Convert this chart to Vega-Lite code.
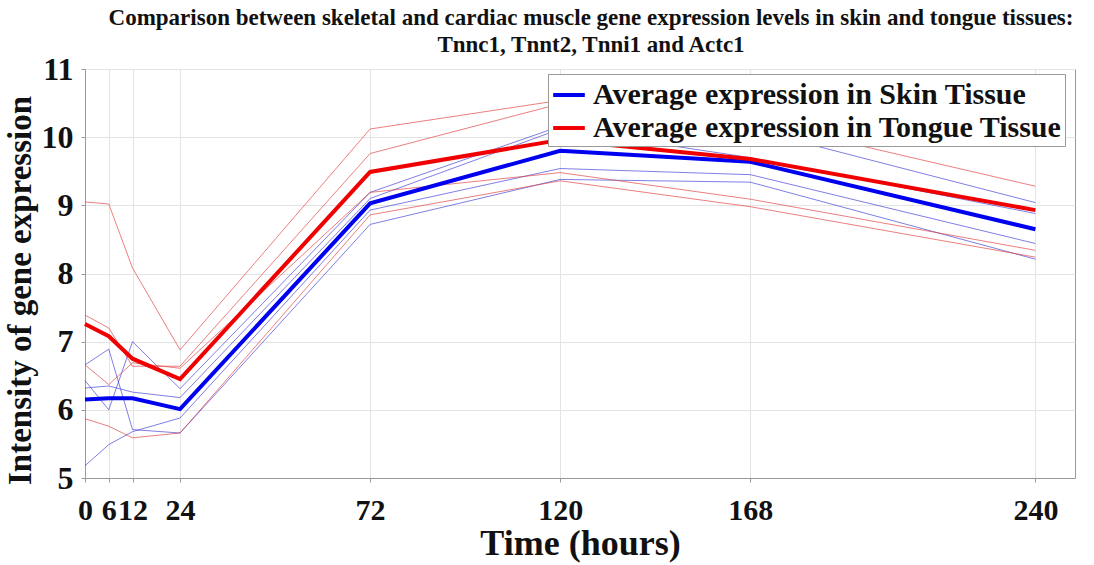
{
  "$schema": "https://vega.github.io/schema/vega-lite/v6.json",
  "width": 990,
  "height": 409,
  "autosize": "none",
  "padding": {"left": 85, "top": 69, "right": 19, "bottom": 87},
  "background": "white",
  "title": {
    "text": ["Comparison between skeletal and cardiac muscle gene expression levels in skin and tongue tissues:", "Tnnc1, Tnnt2, Tnni1 and Actc1"],
    "font": "Liberation Serif",
    "fontSize": 23,
    "fontWeight": "bold",
    "color": "#111",
    "anchor": "middle",
    "dx": 11,
    "offset": -4,
    "lineHeight": 27
  },
  "config": {
    "view": {"stroke": "#999", "strokeWidth": 1},
    "font": "Liberation Serif"
  },
  "datasets": {
    "thin": [
      {"tissue": "Skin", "line": "S1", "hour": 0, "value": 6.66},
      {"tissue": "Skin", "line": "S1", "hour": 6, "value": 6.89},
      {"tissue": "Skin", "line": "S1", "hour": 12, "value": 5.71},
      {"tissue": "Skin", "line": "S1", "hour": 24, "value": 5.66},
      {"tissue": "Skin", "line": "S1", "hour": 72, "value": 8.72},
      {"tissue": "Skin", "line": "S1", "hour": 120, "value": 9.38},
      {"tissue": "Skin", "line": "S1", "hour": 168, "value": 9.34},
      {"tissue": "Skin", "line": "S1", "hour": 240, "value": 8.21},
      {"tissue": "Skin", "line": "S2", "hour": 0, "value": 6.43},
      {"tissue": "Skin", "line": "S2", "hour": 6, "value": 6.0},
      {"tissue": "Skin", "line": "S2", "hour": 12, "value": 7.0},
      {"tissue": "Skin", "line": "S2", "hour": 24, "value": 6.31},
      {"tissue": "Skin", "line": "S2", "hour": 72, "value": 9.19},
      {"tissue": "Skin", "line": "S2", "hour": 120, "value": 10.16},
      {"tissue": "Skin", "line": "S2", "hour": 168, "value": 10.12},
      {"tissue": "Skin", "line": "S2", "hour": 240, "value": 9.04},
      {"tissue": "Skin", "line": "S3", "hour": 0, "value": 6.32},
      {"tissue": "Skin", "line": "S3", "hour": 6, "value": 6.35},
      {"tissue": "Skin", "line": "S3", "hour": 12, "value": 6.26},
      {"tissue": "Skin", "line": "S3", "hour": 24, "value": 6.18},
      {"tissue": "Skin", "line": "S3", "hour": 72, "value": 9.1},
      {"tissue": "Skin", "line": "S3", "hour": 120, "value": 10.12},
      {"tissue": "Skin", "line": "S3", "hour": 168, "value": 9.7},
      {"tissue": "Skin", "line": "S3", "hour": 240, "value": 8.88},
      {"tissue": "Skin", "line": "S4", "hour": 0, "value": 5.18},
      {"tissue": "Skin", "line": "S4", "hour": 6, "value": 5.49},
      {"tissue": "Skin", "line": "S4", "hour": 12, "value": 5.68},
      {"tissue": "Skin", "line": "S4", "hour": 24, "value": 5.88},
      {"tissue": "Skin", "line": "S4", "hour": 72, "value": 8.93},
      {"tissue": "Skin", "line": "S4", "hour": 120, "value": 9.54},
      {"tissue": "Skin", "line": "S4", "hour": 168, "value": 9.45},
      {"tissue": "Skin", "line": "S4", "hour": 240, "value": 8.44},
      {"tissue": "Tongue", "line": "T1", "hour": 0, "value": 9.05},
      {"tissue": "Tongue", "line": "T1", "hour": 6, "value": 9.02},
      {"tissue": "Tongue", "line": "T1", "hour": 12, "value": 8.08},
      {"tissue": "Tongue", "line": "T1", "hour": 24, "value": 6.88},
      {"tissue": "Tongue", "line": "T1", "hour": 72, "value": 10.12},
      {"tissue": "Tongue", "line": "T1", "hour": 120, "value": 10.54},
      {"tissue": "Tongue", "line": "T1", "hour": 168, "value": 10.4},
      {"tissue": "Tongue", "line": "T1", "hour": 240, "value": 9.86},
      {"tissue": "Tongue", "line": "T2", "hour": 0, "value": 7.39},
      {"tissue": "Tongue", "line": "T2", "hour": 6, "value": 7.2},
      {"tissue": "Tongue", "line": "T2", "hour": 12, "value": 6.64},
      {"tissue": "Tongue", "line": "T2", "hour": 24, "value": 6.64},
      {"tissue": "Tongue", "line": "T2", "hour": 72, "value": 9.76},
      {"tissue": "Tongue", "line": "T2", "hour": 120, "value": 10.49},
      {"tissue": "Tongue", "line": "T2", "hour": 168, "value": 10.25},
      {"tissue": "Tongue", "line": "T2", "hour": 240, "value": 9.28},
      {"tissue": "Tongue", "line": "T3", "hour": 0, "value": 6.66},
      {"tissue": "Tongue", "line": "T3", "hour": 6, "value": 6.37},
      {"tissue": "Tongue", "line": "T3", "hour": 12, "value": 6.69},
      {"tissue": "Tongue", "line": "T3", "hour": 24, "value": 6.61},
      {"tissue": "Tongue", "line": "T3", "hour": 72, "value": 9.19},
      {"tissue": "Tongue", "line": "T3", "hour": 120, "value": 9.48},
      {"tissue": "Tongue", "line": "T3", "hour": 168, "value": 9.09},
      {"tissue": "Tongue", "line": "T3", "hour": 240, "value": 8.34},
      {"tissue": "Tongue", "line": "T4", "hour": 0, "value": 5.87},
      {"tissue": "Tongue", "line": "T4", "hour": 6, "value": 5.76},
      {"tissue": "Tongue", "line": "T4", "hour": 12, "value": 5.59},
      {"tissue": "Tongue", "line": "T4", "hour": 24, "value": 5.66},
      {"tissue": "Tongue", "line": "T4", "hour": 72, "value": 8.86},
      {"tissue": "Tongue", "line": "T4", "hour": 120, "value": 9.36},
      {"tissue": "Tongue", "line": "T4", "hour": 168, "value": 8.98},
      {"tissue": "Tongue", "line": "T4", "hour": 240, "value": 8.24}
    ],
    "avg": [
      {"series": "Average expression in Skin Tissue", "hour": 0, "value": 6.15},
      {"series": "Average expression in Skin Tissue", "hour": 6, "value": 6.17},
      {"series": "Average expression in Skin Tissue", "hour": 12, "value": 6.17},
      {"series": "Average expression in Skin Tissue", "hour": 24, "value": 6.01},
      {"series": "Average expression in Skin Tissue", "hour": 72, "value": 9.03},
      {"series": "Average expression in Skin Tissue", "hour": 120, "value": 9.8},
      {"series": "Average expression in Skin Tissue", "hour": 168, "value": 9.64},
      {"series": "Average expression in Skin Tissue", "hour": 240, "value": 8.65},
      {"series": "Average expression in Tongue Tissue", "hour": 0, "value": 7.26},
      {"series": "Average expression in Tongue Tissue", "hour": 6, "value": 7.08},
      {"series": "Average expression in Tongue Tissue", "hour": 12, "value": 6.75},
      {"series": "Average expression in Tongue Tissue", "hour": 24, "value": 6.45},
      {"series": "Average expression in Tongue Tissue", "hour": 72, "value": 9.49},
      {"series": "Average expression in Tongue Tissue", "hour": 120, "value": 9.96},
      {"series": "Average expression in Tongue Tissue", "hour": 168, "value": 9.68},
      {"series": "Average expression in Tongue Tissue", "hour": 240, "value": 8.93}
    ]
  },
  "encoding": {
    "x": {
      "field": "hour",
      "type": "quantitative",
      "scale": {"domain": [0, 250], "nice": false, "zero": false},
      "axis": {
        "title": "Time (hours)",
        "values": [0, 6, 12, 24, 72, 120, 168, 240],
        "labelOverlap": false,
        "labelFlush": false,
        "labelFont": "Liberation Serif",
        "labelFontSize": 30,
        "labelFontWeight": "bold",
        "labelColor": "#111",
        "labelPadding": 13,
        "titleFont": "Liberation Serif",
        "titleFontSize": 36,
        "titleFontWeight": "bold",
        "titleColor": "#111",
        "titlePadding": 1,
        "grid": true,
        "gridColor": "#e4e4e4",
        "domainColor": "#999",
        "tickColor": "#999",
        "tickSize": 4
      }
    },
    "y": {
      "field": "value",
      "type": "quantitative",
      "scale": {"domain": [5, 11], "nice": false, "zero": false},
      "axis": {
        "title": "Intensity of gene expression",
        "values": [5, 6, 7, 8, 9, 10, 11],
        "labelFont": "Liberation Serif",
        "labelFontSize": 32,
        "labelFontWeight": "bold",
        "labelColor": "#111",
        "labelPadding": 8,
        "titleFont": "Liberation Serif",
        "titleFontSize": 33,
        "titleFontWeight": "bold",
        "titleColor": "#111",
        "titlePadding": 4,
        "titleY": 221,
        "grid": true,
        "gridColor": "#e4e4e4",
        "domainColor": "#999",
        "tickColor": "#999",
        "tickSize": 4
      }
    }
  },
  "layer": [
    {
      "data": {"name": "thin"},
      "mark": {"type": "line", "strokeWidth": 1, "opacity": 0.65},
      "encoding": {
        "detail": {"field": "line"},
        "color": {
          "field": "tissue",
          "type": "nominal",
          "scale": {"domain": ["Skin", "Tongue"], "range": ["#3b3bd6", "#e03a3a"]},
          "legend": null
        }
      }
    },
    {
      "data": {"name": "avg"},
      "mark": {"type": "line", "strokeWidth": 4},
      "encoding": {
        "color": {
          "field": "series",
          "type": "nominal",
          "scale": {"domain": ["Average expression in Skin Tissue", "Average expression in Tongue Tissue"], "range": ["#0000f0", "#f00000"]},
          "legend": {
            "title": null,
            "orient": "none",
            "legendX": 463,
            "legendY": 5,
            "symbolType": "stroke",
            "symbolSize": 1000,
            "symbolStrokeWidth": 4,
            "labelFont": "Liberation Serif",
            "labelFontSize": 30,
            "labelFontWeight": "bold",
            "labelColor": "#111",
            "labelLimit": 700,
            "labelOffset": 6,
            "rowPadding": 0,
            "padding": 3,
            "fillColor": "white",
            "strokeColor": "#999"
          }
        }
      }
    }
  ],
  "resolve": {"scale": {"color": "independent"}}
}
